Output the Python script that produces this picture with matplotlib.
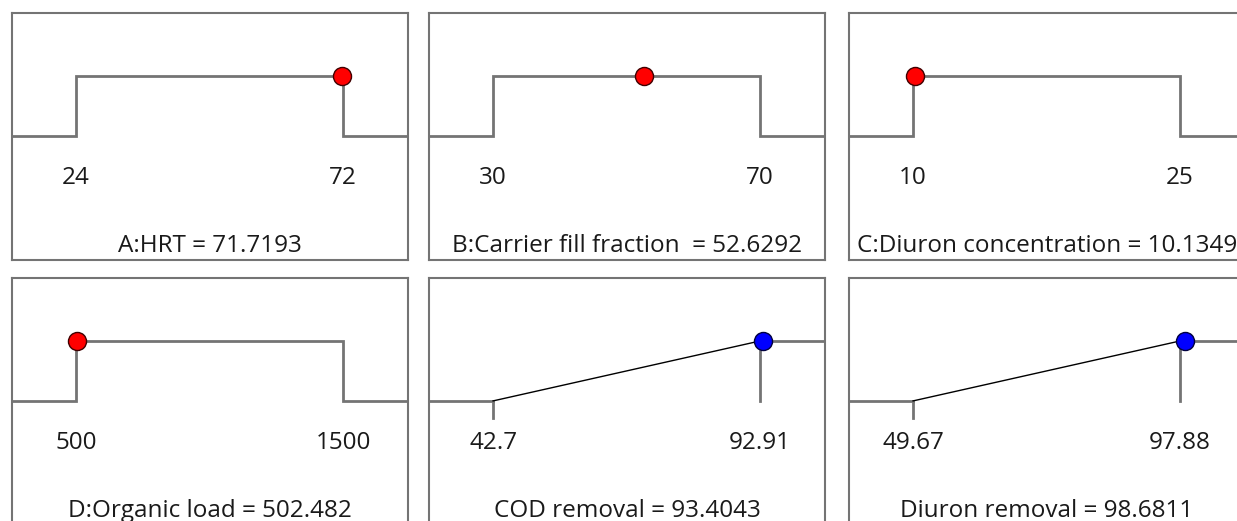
import matplotlib
matplotlib.use('Agg')
import matplotlib.pyplot as plt

plt.rcParams['font.family'] = ['Open Sans', 'DejaVu Sans']

# Desirability ramps: factors (range goal) and responses (maximize goal)
names = ['A:HRT', 'B:Carrier fill fraction ', 'C:Diuron concentration',
         'D:Organic load', 'COD removal', 'Diuron removal']
lows = [24, 30, 10, 500, 42.7, 49.67]
highs = [72, 70, 25, 1500, 92.91, 97.88]
low_labels = ['24', '30', '10', '500', '42.7', '49.67']
high_labels = ['72', '70', '25', '1500', '92.91', '97.88']
values = [71.7193, 52.6292, 10.1349, 502.482, 93.4043, 98.6811]
goals = ['range', 'range', 'range', 'range', 'max', 'max']
value_fmt = ['{:.4f}', '{:.4f}', '{:.4f}', '{:.3f}', '{:.4f}', '{:.4f}']

W, H = 1237, 521
fig = plt.figure(figsize=(W / 100, H / 100), dpi=100)

LINE = '#747474'
TXT = '#1a1a1a'
col_left = [12, 429, 849]
row_top = [13, 278]
pw, ph = 396, 247

def panel(i):
    r, c = divmod(i, 3)
    x0, y0 = col_left[c], row_top[r]
    ax = fig.add_axes([x0 / W, (H - y0 - ph) / H, pw / W, ph / H])
    lo, hi = lows[i], highs[i]
    span = hi - lo
    left, right = lo - 0.24 * span, hi + 0.243 * span
    ax.set_xlim(left, right)
    ax.set_ylim(-2.07, 2.05)
    ax.set_xticks([])
    ax.set_yticks([])
    for s in ax.spines.values():
        s.set_color(LINE)
        s.set_linewidth(1.5)

    if goals[i] == 'range':
        ax.plot([left, lo, lo, hi, hi, right], [0, 0, 1, 1, 0, 0],
                color=LINE, lw=2.0, solid_joinstyle='miter', zorder=2)
        mcolor, edge = '#ff0000', '#400000'
    else:
        ax.plot([left, lo], [0, 0], color=LINE, lw=2.0, zorder=2)
        ax.plot([lo, lo], [0, -0.28], color=LINE, lw=2.0, zorder=2)
        ax.plot([hi, hi], [0, 1], color=LINE, lw=2.0, zorder=2)
        ax.plot([hi, right], [1, 1], color=LINE, lw=2.0, zorder=2)
        ax.plot([lo, hi], [0, 1], color='black', lw=1.0, zorder=3)
        mcolor, edge = '#0000ff', '#000040'

    ax.plot(values[i], 1, 'o', ms=13, mfc=mcolor, mec=edge,
            mew=1.0, zorder=4, clip_on=False)

    ax.text(lo, -0.7, low_labels[i], ha='center', va='center', fontsize=17.5, color=TXT)
    ax.text(hi, -0.7, high_labels[i], ha='center', va='center', fontsize=17.5, color=TXT)
    title = names[i] + ' = ' + value_fmt[i].format(values[i])
    ax.text((left + right) / 2, -1.84, title, ha='center', va='center', fontsize=17.5,
            color=TXT, clip_on=False)

for i in range(6):
    panel(i)

fig.savefig('out.png', dpi=100, facecolor='white')
